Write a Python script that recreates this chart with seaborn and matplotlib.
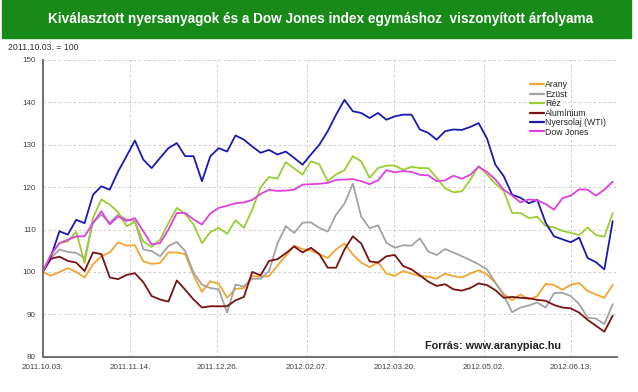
import numpy as np
import pandas as pd
import matplotlib
matplotlib.use("Agg")
import matplotlib.pyplot as plt
from matplotlib.patches import Rectangle
import seaborn as sns

# Mintavételi pontok (kb. 4 naponta), 2011.10.03. = 100
datumok = pd.date_range("2011-10-03", "2012-07-03", periods=69)

arany = [100, 99.1, 100.0, 100.9, 100.0, 98.7, 101.8, 103.7, 104.6, 107.0,
         106.2, 106.3, 102.5, 101.9, 102.1, 104.6, 104.6, 104.2, 99.2, 95.3,
         97.8, 97.2, 93.9, 96.0, 96.2, 99.0, 98.9, 99.0, 101.5, 103.8,
         106.2, 105.4, 105.1, 104.2, 103.3, 105.3, 106.7, 104.1, 102.2, 101.1,
         102.3, 99.6, 99.1, 100.2, 99.6, 99.0, 98.9, 98.4, 99.6, 99.0,
         98.7, 99.6, 100.4, 99.4, 97.4, 94.8, 93.3, 94.7, 93.5, 94.3,
         97.2, 96.9, 95.8, 97.0, 97.4, 95.5, 94.7, 93.9, 97.0]

ezust = [100, 103.3, 105.3, 104.7, 104.5, 103.3, 111.6, 113.5, 111.6, 113.5,
         112.4, 112.0, 105.3, 104.9, 103.7, 106.1, 107.1, 104.9, 99.8, 97.0,
         96.2, 95.9, 90.4, 97.0, 96.6, 98.4, 98.4, 100.2, 106.7, 110.8,
         109.2, 111.6, 111.7, 110.4, 109.5, 113.5, 116.1, 120.8, 113.0, 110.3,
         111.0, 106.9, 105.7, 106.3, 106.2, 107.9, 104.8, 104.0, 105.4, 104.6,
         103.7, 102.8, 101.8, 100.6, 97.5, 94.5, 90.5, 91.6, 92.1, 92.8,
         91.6, 95.0, 95.1, 94.3, 92.4, 89.2, 89.0, 87.7, 92.4]

rez = [100, 104.1, 106.8, 107.2, 109.5, 102.1, 112.7, 117.1, 115.9, 114.1,
       110.8, 111.8, 107.2, 105.9, 107.6, 111.5, 115.1, 113.7, 111.2, 106.8,
       109.4, 110.4, 109.0, 112.2, 110.4, 114.7, 120.0, 122.4, 122.0, 125.9,
       124.4, 123.0, 126.1, 125.4, 121.4, 123.0, 124.0, 127.3, 126.1, 122.2,
       124.5, 125.1, 125.1, 124.1, 124.8, 124.5, 124.5, 122.2, 119.7, 118.8,
       119.0, 121.7, 125.0, 123.0, 120.8, 119.1, 113.9, 113.9, 112.7, 113.0,
       110.8, 110.5, 109.7, 109.2, 108.7, 110.5, 108.7, 108.3, 113.9]

aluminium = [100, 103.1, 103.6, 102.6, 102.2, 100.2, 104.6, 104.2, 98.7, 98.3,
             99.3, 99.7, 97.6, 94.3, 93.5, 93.0, 98.0, 95.8, 93.5, 91.6,
             91.9, 91.9, 91.9, 93.3, 94.1, 100.0, 99.2, 102.6, 103.0, 104.4,
             106.0, 104.6, 105.7, 104.2, 101.0, 101.0, 105.3, 108.4, 106.7, 102.5,
             102.2, 103.7, 104.0, 101.4, 100.6, 99.2, 97.7, 96.7, 97.1, 95.9,
             95.6, 96.2, 97.3, 96.9, 95.7, 93.9, 94.1, 93.9, 93.8, 93.4,
             93.2, 92.2, 91.6, 91.4, 90.4, 88.7, 87.3, 85.9, 89.7]

olaj = [100, 103.7, 109.6, 108.8, 112.3, 111.5, 118.2, 120.2, 119.4, 123.7,
        127.3, 131.0, 126.5, 124.5, 126.9, 129.2, 130.4, 127.3, 127.3, 121.4,
        127.3, 129.2, 128.4, 132.2, 131.2, 129.6, 128.1, 128.8, 127.7, 128.4,
        126.9, 125.3, 127.7, 130.0, 133.2, 137.1, 140.6, 137.9, 137.5, 136.3,
        137.5, 135.9, 136.7, 137.1, 137.1, 133.6, 132.8, 131.2, 133.2, 133.6,
        133.5, 134.2, 135.1, 131.5, 125.3, 122.6, 118.2, 117.5, 116.2, 117.0,
        111.6, 108.4, 107.7, 107.0, 108.1, 103.3, 102.3, 100.6, 112.0]

dowjones = [100, 104.1, 106.8, 107.6, 108.4, 108.4, 111.6, 114.3, 111.2, 113.1,
            112.0, 112.7, 109.6, 106.5, 106.8, 110.0, 113.9, 113.9, 112.4, 111.2,
            113.8, 115.1, 115.6, 116.2, 116.4, 117.0, 118.4, 119.4, 119.1, 119.2,
            119.4, 120.6, 120.7, 120.8, 121.0, 121.7, 121.8, 121.9, 121.4, 120.7,
            121.6, 124.0, 123.5, 123.8, 123.6, 122.9, 122.8, 121.4, 121.6, 122.7,
            122.0, 122.9, 124.8, 123.6, 121.8, 119.4, 118.0, 116.4, 117.1, 116.9,
            116.0, 114.7, 117.4, 118.0, 119.5, 119.4, 118.0, 119.4, 121.3]

nevek = ["Arany", "Ezüst", "Réz", "Alumínium", "Nyersolaj (WTI)", "Dow Jones"]
szinek = ["#F2A531", "#A3A3A3", "#9ACD32", "#7A1212", "#1A1AB0", "#E040E0"]
tick_datumok = ["2011-10-03", "2011-11-14", "2011-12-26", "2012-02-07",
                "2012-03-20", "2012-05-02", "2012-06-13"]
y_tickek = [80, 90, 100, 110, 120, 130, 140, 150]

df = pd.DataFrame({"datum": datumok, "Arany": arany, "Ezüst": ezust, "Réz": rez,
                   "Alumínium": aluminium, "Nyersolaj (WTI)": olaj,
                   "Dow Jones": dowjones})
df = df.melt(id_vars="datum", var_name="termek", value_name="ertek")

sns.set_style("white")
plt.rcParams["font.family"] = ["Liberation Sans", "DejaVu Sans"]

fig = plt.figure(figsize=(6.38, 3.92), dpi=100)
ax = fig.add_axes([0.0669, 0.09, 0.9, 0.757])

sns.lineplot(data=df, x="datum", y="ertek", hue="termek", hue_order=nevek,
             palette=szinek, linewidth=1.3, ax=ax)

# tengelyek
ax.set_ylim(80, 150)
ax.set_xlim(pd.Timestamp("2011-10-03"), pd.Timestamp("2012-07-05"))
ax.set_yticks(y_tickek)
ticks = pd.to_datetime(tick_datumok)
ax.set_xticks(ticks)
ax.set_xticklabels([d.strftime("%Y.%m.%d.") for d in ticks])
ax.tick_params(axis="both", labelsize=5.8, labelcolor="#404040", length=3,
               width=0.8, color="#707070", direction="out", pad=2)
ax.set_xlabel("")
ax.set_ylabel("")
for s in ["top", "right"]:
    ax.spines[s].set_visible(False)
for s in ["left", "bottom"]:
    ax.spines[s].set_color("#707070")
    ax.spines[s].set_linewidth(1.4)
ax.grid(True, linestyle=(0, (3, 3)), color="#c4c4c4", linewidth=0.6)

leg = ax.legend(loc="upper left", bbox_to_anchor=(0.83, 0.795),
                bbox_transform=fig.transFigure, frameon=False, fontsize=6.3,
                handlelength=1.6, handletextpad=0.2, labelspacing=0.05,
                borderpad=0, borderaxespad=0)
for ln in leg.get_lines():
    ln.set_linewidth(1.6)

# cím sáv
fig.patches.append(Rectangle((0.003, 1 - 38 / 392), 0.986, 38 / 392,
                             transform=fig.transFigure, color="#188A18",
                             zorder=0))
fig.text(0.503, 1 - 19 / 392,
         "Kiválasztott nyersanyagok és a Dow Jones index egymáshoz  viszonyított árfolyama",
         color="white", fontsize=9.8, fontweight="bold", ha="center", va="center")
fig.text(0.0125, 1 - 47 / 392, "2011.10.03. = 100", fontsize=6.3,
         color="#303030", va="center")
fig.text(0.666, 1 - 346 / 392, "Forrás: www.aranypiac.hu", fontsize=7.8,
         fontweight="bold", color="#202020", va="center")

fig.savefig("out.png", dpi=100)
